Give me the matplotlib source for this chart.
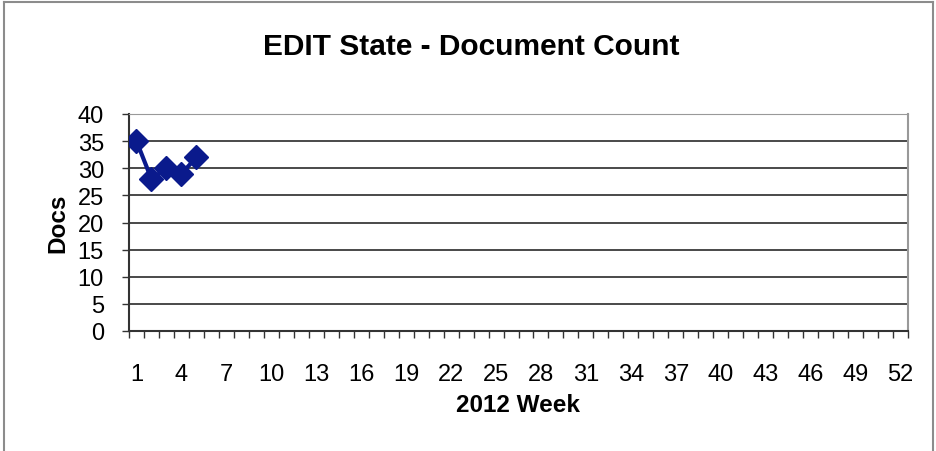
import numpy as np
import matplotlib.pyplot as plt
from matplotlib.lines import Line2D

plt.rcParams['font.family'] = ['Liberation Sans', 'DejaVu Sans']

weeks = [1, 2, 3, 4, 5]
docs = [35, 28, 30, 29, 32]
week_labels = list(range(1, 53, 3))
n_weeks = 52

fig = plt.figure(figsize=(9.37, 4.52), dpi=100)
ax = fig.add_axes([129 / 937, 1 - 332 / 452, (908 - 129) / 937, (332 - 115) / 452])

# outer chart border
for xs, ys in [([0.004, 0.004], [0, 0.994]), ([0.004, 0.996], [0.994, 0.994]), ([0.996, 0.996], [0, 0.994])]:
    fig.add_artist(Line2D(xs, ys, transform=fig.transFigure, color='#8c8c8c', lw=1.5))

ax.plot(weeks, docs, color='#0a1a8c', lw=3, marker='D', markersize=12, zorder=3)

ax.set_xlim(0.5, n_weeks + 0.5)
ax.set_ylim(0, 40)
ax.set_yticks(range(0, 41, 5))
ax.yaxis.grid(True, color='#2a2a2a', lw=1.2)
ax.set_axisbelow(True)

ax.set_xticks(week_labels)
ax.set_xticks(np.arange(0.5, n_weeks + 1, 1), minor=True)
ax.tick_params(axis='x', which='major', length=0, labelsize=17, pad=23)
ax.tick_params(axis='x', which='minor', length=5, width=1, color='#333333')
ax.tick_params(axis='y', length=5, width=1, labelsize=17, pad=13, color='#333333')

ax.spines['left'].set_color('#333333')
ax.spines['left'].set_linewidth(1.5)
ax.spines['bottom'].set_color('#333333')
ax.spines['bottom'].set_linewidth(1.5)
ax.spines['top'].set_color('#999999')
ax.spines['right'].set_color('#999999')
ax.spines['right'].set_linewidth(1.5)

ax.set_xlabel('2012 Week', fontsize=17.5, fontweight='bold', labelpad=6)
ax.set_ylabel('Docs', fontsize=17.5, fontweight='bold', labelpad=6)
fig.text(0.5 * (262 + 680) / 937, 1 - 47 / 452, 'EDIT State - Document Count',
         fontsize=21.5, fontweight='bold', ha='center', va='center')

fig.savefig('out.png', dpi=100)
